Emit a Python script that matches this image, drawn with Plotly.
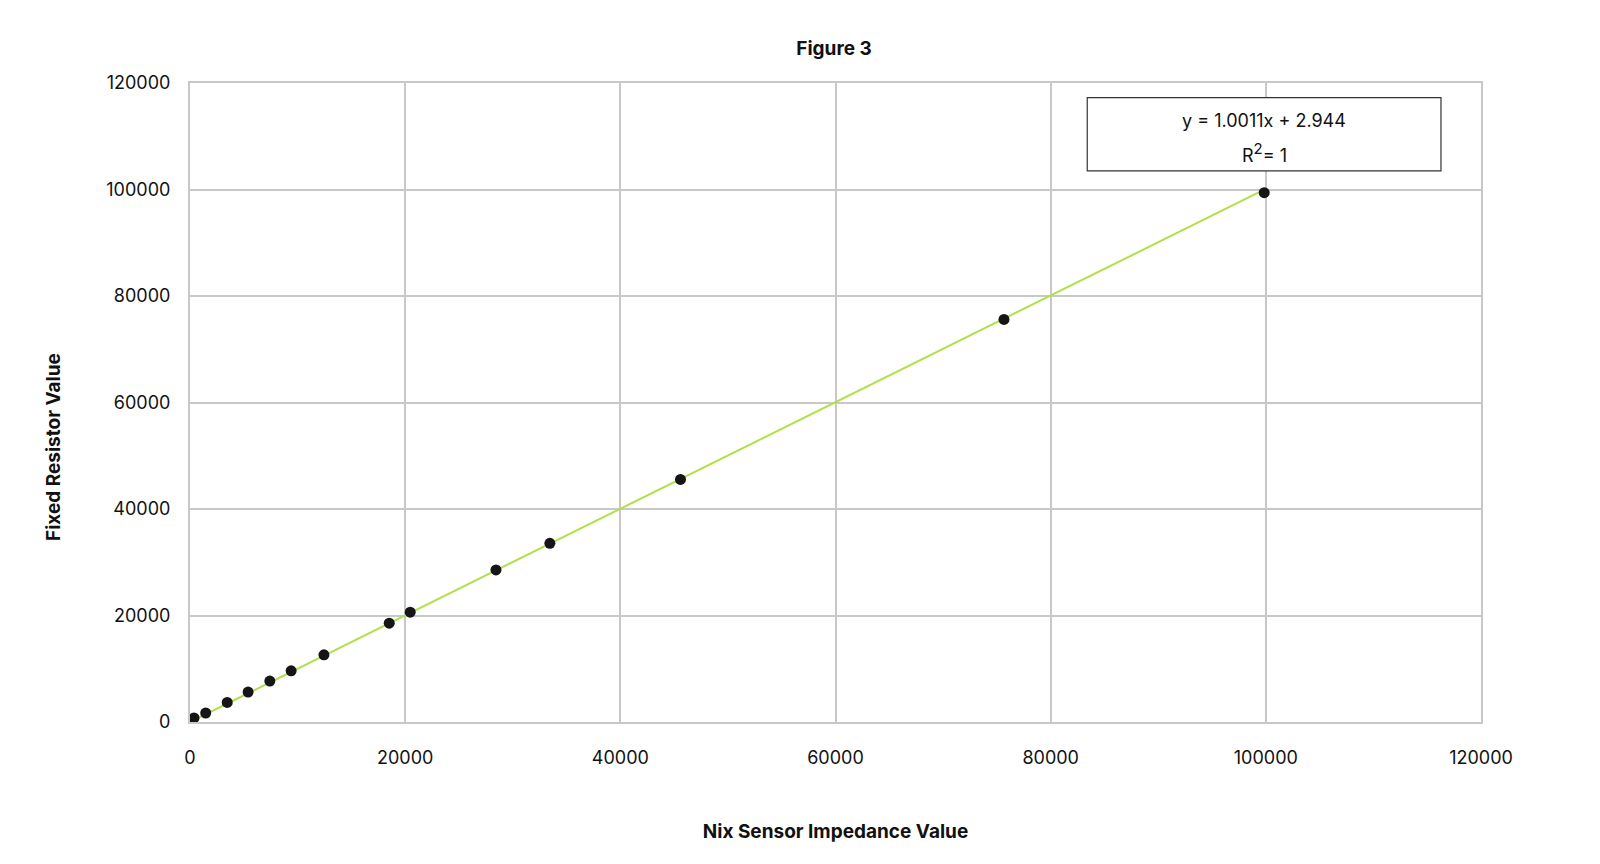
import plotly.graph_objects as go

# Data
nix_impedance = [370, 1460, 3460, 5400, 7420, 9400, 12450, 18520, 20470, 28440, 33450, 45590, 75660, 99850]
fixed_resistor = [750, 1690, 3670, 5620, 7690, 9620, 12620, 18560, 20620, 28550, 33550, 45550, 75600, 99400]

trend_slope = 1.0011
trend_intercept = 2.944
trend_line1 = "y = 1.0011x + 2.944"
trend_line2 = "R<sup><span style='font-size:15px'>2</span></sup>= 1"

axis_ticks = [0, 20000, 40000, 60000, 80000, 100000, 120000]

FONT = "Inter"
GRID = "#c8c8c8"
TXT = "#111111"

trend_x = [min(nix_impedance), max(nix_impedance)]
trend_y = [trend_slope * v + trend_intercept for v in trend_x]

fig = go.Figure()
fig.add_trace(go.Scatter(
    x=trend_x, y=trend_y, mode="lines",
    line=dict(color="#b3df48", width=2),
    hoverinfo="skip", showlegend=False,
))
fig.add_trace(go.Scatter(
    x=nix_impedance, y=fixed_resistor, mode="markers",
    marker=dict(color="#151515", size=11),
    showlegend=False,
))

axis_common = dict(
    range=[0, 120000],
    tickvals=axis_ticks,
    ticktext=[str(v) for v in axis_ticks],
    showgrid=True, gridcolor=GRID, gridwidth=2,
    zeroline=False,
    showline=True, linecolor=GRID, linewidth=2, mirror=True,
    ticks="",
    tickfont=dict(family=FONT, size=18, color=TXT),
)

fig.update_xaxes(
    **axis_common,
    ticklabelstandoff=18,
    title=dict(text="<b>Nix Sensor Impedance Value</b>",
               font=dict(family=FONT, size=19, color=TXT),
               standoff=58),
)
fig.update_yaxes(
    **axis_common,
    ticklabelstandoff=14,
)

# y-axis title (sits below the plot's vertical centre in the reference)
fig.add_annotation(text="<b>Fixed Resistor Value</b>", xref="paper", yref="paper",
                   x=-0.1058, y=0.431, xanchor="center", yanchor="middle",
                   textangle=-90, showarrow=False,
                   font=dict(family=FONT, size=19, color=TXT))

# trendline label box
fig.add_shape(type="rect", xref="paper", yref="paper",
              x0=0.695, x1=0.969, y0=0.8625, y1=0.977,
              line=dict(color="#333333", width=1.2), fillcolor="white", layer="above")
fig.add_annotation(text=trend_line1, xref="paper", yref="paper",
                   x=0.832, y=0.9406, xanchor="center", yanchor="middle",
                   showarrow=False, font=dict(family=FONT, size=18, color=TXT))
fig.add_annotation(text=trend_line2, xref="paper", yref="paper",
                   x=0.832, y=0.8906, xanchor="center", yanchor="middle",
                   showarrow=False, font=dict(family=FONT, size=18, color=TXT))

fig.update_layout(
    width=1600, height=864,
    margin=dict(l=182, r=127, t=75, b=150, autoexpand=False),
    paper_bgcolor="white", plot_bgcolor="white",
    title=dict(text="<b>Figure 3</b>", x=(833 - 7) / 1600, xanchor="center",
               y=1 - 40 / 864, yanchor="middle", yref="container",
               font=dict(family=FONT, size=19, color=TXT)),
)

fig.write_html("out.html")
